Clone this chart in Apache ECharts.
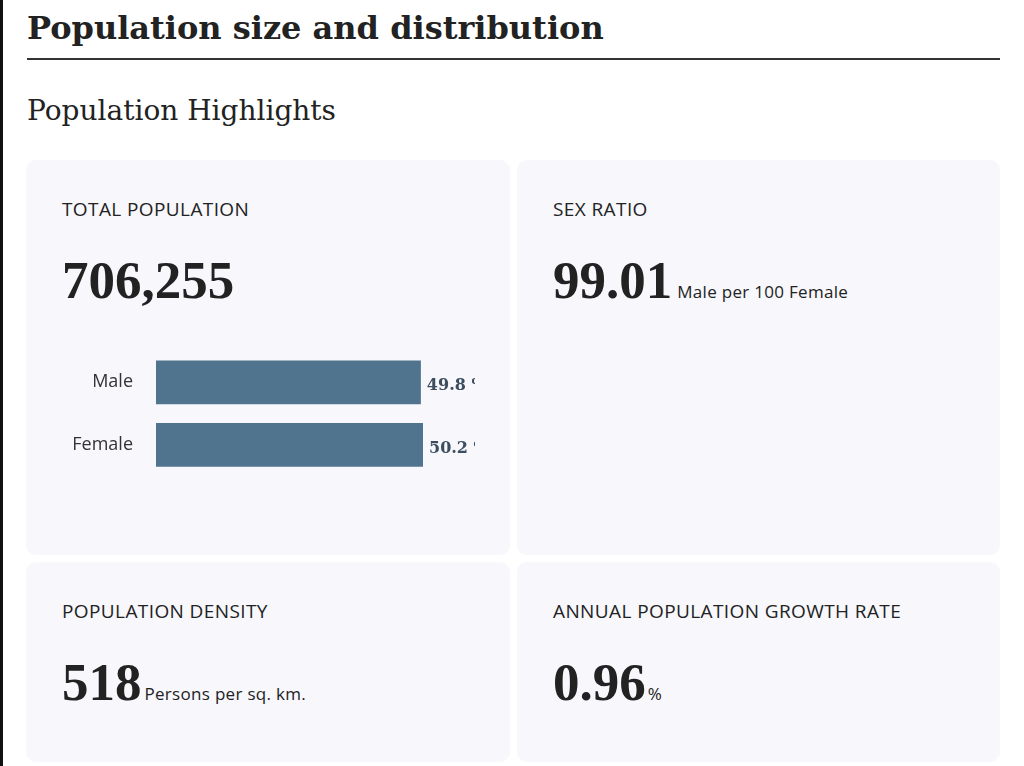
<!DOCTYPE html>
<html>
<head>
<meta charset="utf-8">
<script src="https://cdn.jsdelivr.net/npm/echarts@6/dist/echarts.min.js"></script>
<style>
  html, body { margin: 0; padding: 0; background: #fff; }
  body { width: 1024px; height: 766px; position: relative; overflow: hidden; border-left: 3px solid #111; box-sizing: border-box; }
  .abs { position: absolute; }
  #title { left: 24px; top: 8px; font: bold 32px "DejaVu Serif", serif; color: #222; line-height: 40px; white-space: nowrap; }
  #rule { left: 24px; top: 58px; width: 973px; height: 1.5px; background: #333; }
  #sub { left: 24px; top: 94px; font: 28px "DejaVu Serif", serif; color: #222; line-height: 34px; white-space: nowrap; }
  .card { position: absolute; background: #f7f7fc; border-radius: 10px; }
  .lbl { position: absolute; left: 36px; font: 19px "Open Sans", sans-serif; letter-spacing: 0.4px; color: #222; white-space: nowrap; line-height: 24px; }
  .big { position: absolute; left: 36px; white-space: nowrap; color: #222; }
  .big b { font: bold 53px "Liberation Serif", serif; }
  .big span { font: 17px "Open Sans", sans-serif; letter-spacing: 0.3px; margin-left: 5px; }
  #chart { position: absolute; left: 14px; top: 189px; width: 435px; height: 150px; }
</style>
</head>
<body>
<div id="title" class="abs">Population size and distribution</div>
<div id="rule" class="abs"></div>
<div id="sub" class="abs">Population Highlights</div>

<div class="card" style="left:23px; top:160px; width:484px; height:395px;">
  <div class="lbl" style="top:37px;">TOTAL POPULATION</div>
  <div class="big" style="top:90px;"><b id="total"></b></div>
  <div id="chart"></div>
</div>
<div class="card" style="left:514px; top:160px; width:483px; height:395px;">
  <div class="lbl" style="top:37px;">SEX RATIO</div>
  <div class="big" style="top:90px;"><b id="ratio"></b><span>Male per 100 Female</span></div>
</div>
<div class="card" style="left:23px; top:562px; width:484px; height:200px;">
  <div class="lbl" style="top:37px;">POPULATION DENSITY</div>
  <div class="big" style="top:90px;"><b id="density"></b><span style="margin-left:3px">Persons per sq. km.</span></div>
</div>
<div class="card" style="left:514px; top:562px; width:483px; height:200px;">
  <div class="lbl" style="top:37px;">ANNUAL POPULATION GROWTH RATE</div>
  <div class="big" style="top:90px;"><b id="growth"></b><span style="margin-left:2px">%</span></div>
</div>

<script>
// 汇总指标
const totalPopulation = 706255;
const sexRatio = 99.01;
const density = 518;
const growthRate = 0.96;

// 性别构成
const sexCategories = ['Male', 'Female'];
const sexShares = [49.8, 50.2];

document.getElementById('total').textContent = totalPopulation.toLocaleString('en-US');
document.getElementById('ratio').textContent = sexRatio.toFixed(2);
document.getElementById('density').textContent = density;
document.getElementById('growth').textContent = growthRate.toFixed(2);

const myChart = echarts.init(document.getElementById('chart'));
myChart.setOption({
  animation: false,
  grid: { left: 116, right: 52, top: 2, bottom: 23 },
  xAxis: {
    type: 'value', min: 0, max: 'dataMax', show: false
  },
  yAxis: {
    type: 'category',
    data: sexCategories,
    inverse: true,
    axisLine: { show: false },
    axisTick: { show: false },
    axisLabel: { color: '#333', fontSize: 18, fontFamily: 'Open Sans', margin: 23, padding: [0, 0, 5, 0] }
  },
  series: [{
    type: 'bar',
    data: sexShares,
    barWidth: '70%',
    itemStyle: { color: '#50738e' },
    label: {
      show: true,
      position: 'right',
      distance: 6,
      offset: [0, 4],
      formatter: p => p.value + ' %',
      color: '#3b4d5e',
      fontSize: 16,
      fontWeight: 'bold',
      fontFamily: 'DejaVu Serif'
    }
  }]
});
</script>
</body>
</html>
